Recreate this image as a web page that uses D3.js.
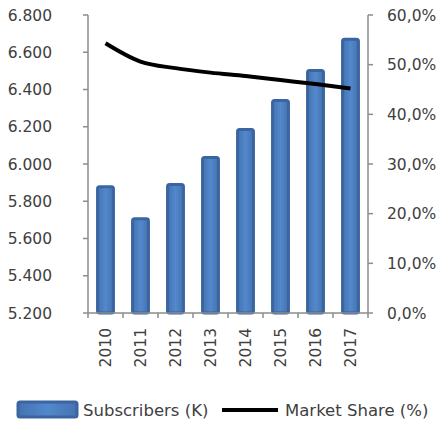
<!DOCTYPE html>
<html><head><meta charset="utf-8">
<script src="https://cdn.jsdelivr.net/npm/d3@7"></script>
<style>body{margin:0;background:#fff}svg{display:block}text{font-family:"DejaVu Sans",sans-serif;fill:#404040}</style>
</head><body>
<script>
const years = ["2010","2011","2012","2013","2014","2015","2016","2017"];
const subscribers = [5.886, 5.714, 5.898, 6.043, 6.193, 6.349, 6.510, 6.678];
const marketShare = [0.543, 0.506, 0.493, 0.484, 0.477, 0.469, 0.461, 0.452];
const leftTicks = [5.2, 5.4, 5.6, 5.8, 6.0, 6.2, 6.4, 6.6, 6.8];
const rightTicks = [0, 0.1, 0.2, 0.3, 0.4, 0.5, 0.6];
const seriesNames = ["Subscribers (K)", "Market Share (%)"];

const W = 442, H = 425, fs = 15.5, lfs = 16.5;
const svg = d3.select("body").append("svg").attr("width", W).attr("height", H);
const x = d3.scaleBand().domain(years).range([88, 368]).paddingInner(0.46).paddingOuter(0.23);
const xb = d3.scaleBand().domain(years).range([88, 368]);
const yL = d3.scaleLinear().domain([5.2, 6.8]).range([313, 15]);
const yR = d3.scaleLinear().domain([0, 0.6]).range([313, 15]);
const axisColor = "#8c8c8c";
const fmtL = v => d3.format(".3f")(v).replace(".", ",").replace(/^(\d),/, "$1.");
const fmtR = v => d3.format(".1f")(v * 100).replace(".", ",") + "%";

// bars
const defs = svg.append("defs");
const g = defs.append("linearGradient").attr("id", "bg").attr("x1", 0).attr("x2", 1);
g.append("stop").attr("offset", "0").attr("stop-color", "#4573b0");
g.append("stop").attr("offset", "0.5").attr("stop-color", "#5288cc");
g.append("stop").attr("offset", "1").attr("stop-color", "#4573b0");
svg.append("g").selectAll("rect").data(years).join("rect")
  .attr("x", d => x(d) + 1.5).attr("width", x.bandwidth() - 3)
  .attr("y", (d, i) => yL(subscribers[i]) + 1.5)
  .attr("height", (d, i) => yL(5.2) - yL(subscribers[i]) - 1.5)
  .attr("rx", 2).attr("fill", "url(#bg)").attr("stroke", "#3a65a0").attr("stroke-width", 3);

// axes
const ax = svg.append("g").attr("stroke", axisColor).attr("stroke-width", 1.5);
ax.append("line").attr("x1", 88).attr("x2", 88).attr("y1", 15).attr("y2", 313);
ax.append("line").attr("x1", 368).attr("x2", 368).attr("y1", 15).attr("y2", 313);
ax.append("line").attr("x1", 88).attr("x2", 368).attr("y1", 313).attr("y2", 313);
ax.selectAll(".tl").data(leftTicks).join("line").attr("x1", 83).attr("x2", 88).attr("y1", d => yL(d)).attr("y2", d => yL(d));
ax.selectAll(".tr").data(rightTicks).join("line").attr("class","tr").attr("x1", 368).attr("x2", 373).attr("y1", d => yR(d)).attr("y2", d => yR(d));
ax.selectAll(".tx").data(years.concat(["end"])).join("line").attr("class","tx")
  .attr("x1", (d, i) => 88 + i * xb.step()).attr("x2", (d, i) => 88 + i * xb.step()).attr("y1", 313).attr("y2", 318);

svg.append("g").selectAll("text").data(leftTicks).join("text")
  .attr("x", 52).attr("y", d => yL(d)).attr("dy", "0.36em").attr("text-anchor", "end")
  .attr("font-size", fs).text(fmtL);
svg.append("g").selectAll("text").data(rightTicks).join("text")
  .attr("x", 387).attr("y", d => yR(d)).attr("dy", "0.36em").attr("text-anchor", "start")
  .attr("font-size", fs).text(fmtR);
svg.append("g").selectAll("text").data(years).join("text")
  .attr("transform", d => `translate(${xb(d) + xb.bandwidth() / 2},328) rotate(-90)`)
  .attr("dy", "0.36em").attr("text-anchor", "end").attr("font-size", fs).text(d => d);

// line
const line = d3.line().x((d, i) => xb(years[i]) + xb.bandwidth() / 2).y(d => yR(d)).curve(d3.curveMonotoneX);
svg.append("path").datum(marketShare).attr("d", line).attr("fill", "none").attr("stroke", "#000").attr("stroke-width", 4);

// legend
const lg = svg.append("g");
lg.append("rect").attr("x", 18).attr("y", 402).attr("width", 59).attr("height", 15).attr("rx", 2)
  .attr("fill", "url(#bg)").attr("stroke", "#3a65a0").attr("stroke-width", 3);
lg.append("text").attr("x", 83).attr("y", 410).attr("dy", "0.36em").attr("font-size", lfs).text(seriesNames[0]);
lg.append("line").attr("x1", 222).attr("x2", 278).attr("y1", 410).attr("y2", 410).attr("stroke", "#000").attr("stroke-width", 4);
lg.append("text").attr("x", 285).attr("y", 410).attr("dy", "0.36em").attr("font-size", lfs).text(seriesNames[1]);
</script>
</body></html>
